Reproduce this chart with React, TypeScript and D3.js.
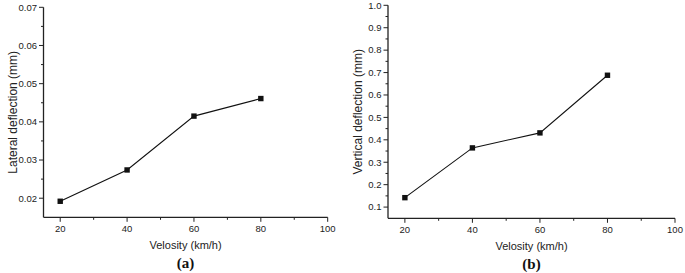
import React from "react";
import * as d3 from "d3";

const velocity = [20, 40, 60, 80];
const lateralDeflection = [0.0192, 0.0274, 0.0415, 0.0461];
const verticalDeflection = [0.142, 0.364, 0.431, 0.688];
const xTicks = [20, 40, 60, 80, 100];
const xMinorTicks = [30, 50, 70, 90];
const lateralTicks = [0.02, 0.03, 0.04, 0.05, 0.06, 0.07];
const lateralMinor = [0.025, 0.035, 0.045, 0.055, 0.065];
const verticalTicks = [0.1, 0.2, 0.3, 0.4, 0.5, 0.6, 0.7, 0.8, 0.9, 1.0];
const verticalMinor = [0.15, 0.25, 0.35, 0.45, 0.55, 0.65, 0.75, 0.85, 0.95];

type PanelProps = {
  x0: number; x1: number; y0: number; y1: number;
  yDomain: [number, number];
  values: number[];
  yTicks: number[];
  yMinor: number[];
  yFormat: (v: number) => string;
  yTitle: string;
  yTitleX: number;
  label: string;
};

function Panel(p: PanelProps) {
  const x = d3.scaleLinear().domain([15, 100]).range([p.x0, p.x1]);
  const y = d3.scaleLinear().domain(p.yDomain).range([p.y1, p.y0]);
  const line = d3.line<number>().x((_, i) => x(velocity[i])).y((d) => y(d));
  const cx = (p.x0 + p.x1) / 2;
  const font = "Liberation Sans, Arial, sans-serif";
  return (
    <g>
      <line x1={p.x0} x2={p.x0} y1={p.y0} y2={p.y1} stroke="#222" strokeWidth={1.3} />
      <line x1={p.x0} x2={p.x1} y1={p.y1} y2={p.y1} stroke="#222" strokeWidth={1.3} />
      {p.yTicks.map((t) => (
        <g key={"yt" + t}>
          <line x1={p.x0 - 4.5} x2={p.x0} y1={y(t)} y2={y(t)} stroke="#222" strokeWidth={1} />
          <text x={p.x0 - 6.5} y={y(t)} dy="0.35em" textAnchor="end" fontSize={9.5} fontFamily={font} fill="#222">
            {p.yFormat(t)}
          </text>
        </g>
      ))}
      {p.yMinor.map((t) => (
        <line key={"ym" + t} x1={p.x0 - 2.5} x2={p.x0} y1={y(t)} y2={y(t)} stroke="#222" strokeWidth={1} />
      ))}
      {xTicks.map((t) => (
        <g key={"xt" + t}>
          <line x1={x(t)} x2={x(t)} y1={p.y1} y2={p.y1 + 4.5} stroke="#222" strokeWidth={1} />
          <text x={x(t)} y={p.y1 + 11.5} dy="0.35em" textAnchor="middle" fontSize={9.5} fontFamily={font} fill="#222">
            {t}
          </text>
        </g>
      ))}
      {xMinorTicks.map((t) => (
        <line key={"xm" + t} x1={x(t)} x2={x(t)} y1={p.y1} y2={p.y1 + 2.5} stroke="#222" strokeWidth={1} />
      ))}
      <path d={line(p.values) || ""} fill="none" stroke="#111" strokeWidth={1.1} />
      {p.values.map((v, i) => (
        <rect key={"m" + i} x={x(velocity[i]) - 2.7} y={y(v) - 2.7} width={5.4} height={5.4} fill="#111" />
      ))}
      <text x={cx} y={p.y1 + 27.5} dy="0.35em" textAnchor="middle" fontSize={11} fontFamily={font} fill="#222">
        Velosity (km/h)
      </text>
      <text
        transform={`translate(${p.yTitleX},${(p.y0 + p.y1) / 2}) rotate(-90)`}
        dy="0.35em"
        textAnchor="middle"
        fontSize={12}
        fontFamily={font}
        fill="#222"
      >
        {p.yTitle}
      </text>
      <text x={cx} y={p.y1 + 45.5} dy="0.35em" textAnchor="middle" fontSize={15} fontWeight="bold" fontFamily="Liberation Serif, Times New Roman, serif" fill="#111">
        {p.label}
      </text>
    </g>
  );
}

export default function App() {
  return (
    <svg width={685} height={273} style={{ position: "absolute", left: 0, top: 0, background: "#fff" }}>
      <rect width={685} height={273} fill="#fff" />
      <Panel
        x0={43.5} x1={327.7} y0={7.3} y1={217.3}
        yDomain={[0.015, 0.07]}
        values={lateralDeflection}
        yTicks={lateralTicks}
        yMinor={lateralMinor}
        yFormat={(v) => v.toFixed(2)}
        yTitle="Lateral deflection (mm)"
        yTitleX={12.5}
        label="(a)"
      />
      <Panel
        x0={388} x1={675} y0={5.3} y1={218.3}
        yDomain={[0.05, 1.0]}
        values={verticalDeflection}
        yTicks={verticalTicks}
        yMinor={verticalMinor}
        yFormat={(v) => v.toFixed(1)}
        yTitle="Vertical deflection (mm)"
        yTitleX={357.5}
        label="(b)"
      />
    </svg>
  );
}
